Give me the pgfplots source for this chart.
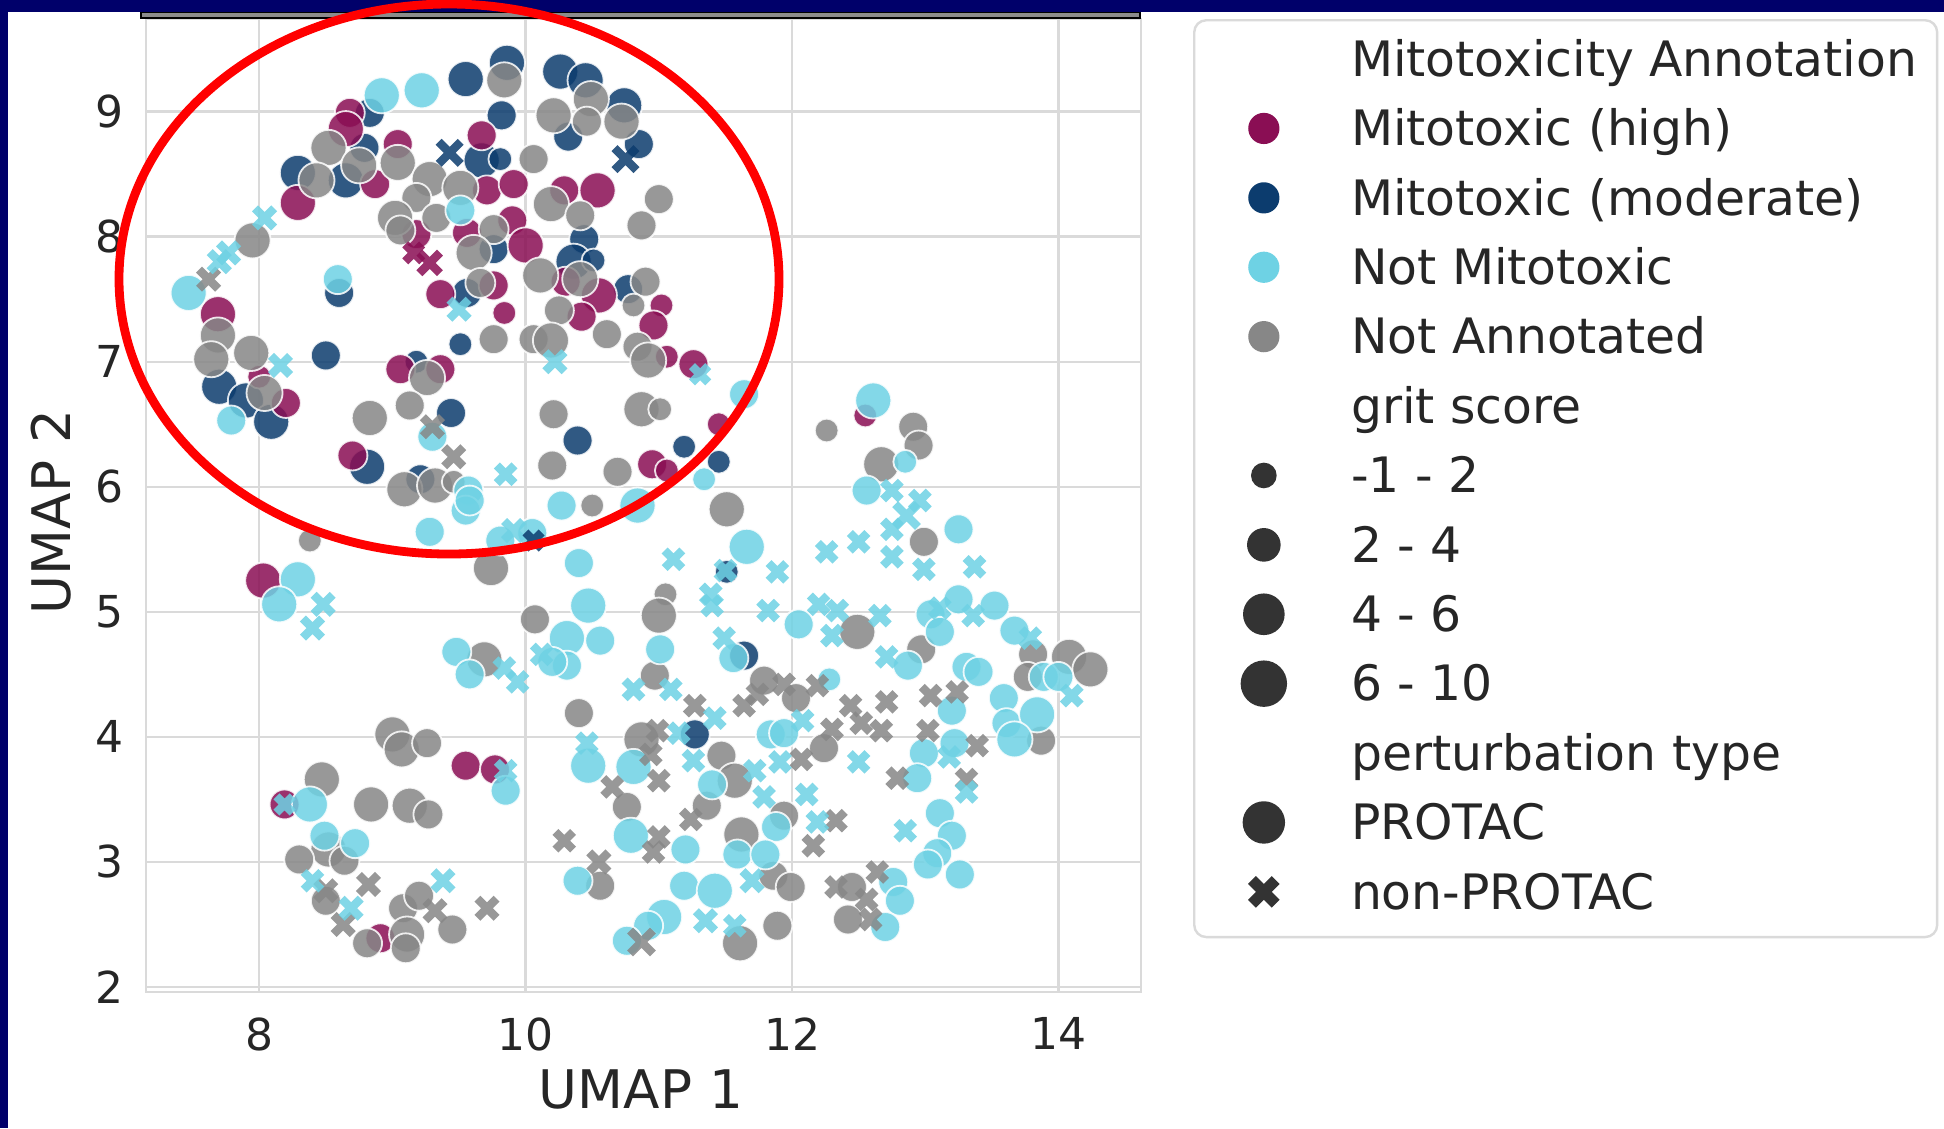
\documentclass[border=0pt]{standalone}
\usepackage{fontspec}
\setmainfont{DejaVu Sans}
\usepackage{pgfplots}
\usepackage{pgfplotstable}
\pgfplotsset{compat=1.18}

\definecolor{navybg}{RGB}{0,0,106}
\definecolor{chigh}{RGB}{138,14,84}
\definecolor{cmod}{RGB}{12,60,110}
\definecolor{ccyan}{RGB}{110,210,228}
\definecolor{cgray}{RGB}{135,135,135}
\definecolor{labelgray}{RGB}{38,38,38}
\definecolor{lgdark}{RGB}{51,51,51}
\definecolor{gridgray}{RGB}{218,218,218}

\pgfplotsset{
  circ/.style={only marks, scatter, mark=*, forget plot,
    scatter/use mapped color={draw=white, line width=0.45pt, fill=#1, fill opacity=0.85, draw opacity=0.85},
    visualization depends on={1.1*\thisrow{s}\as\perpointmarksize},
    scatter/@pre marker code/.append style={/tikz/mark size=\perpointmarksize}},
  xmk/.style={only marks, scatter, mark=x, forget plot,
    scatter/use mapped color={draw=#1, line width=2.1pt, draw opacity=0.85},
    visualization depends on={1.3*\thisrow{s}\as\perpointmarksize},
    scatter/@pre marker code/.append style={/tikz/mark size=\perpointmarksize}},
}

\pgfplotstableread{
x y s
9.84 9.25 4.1
8.52 8.71 4.1
9.04 8.59 4.1
10.06 8.62 3.4
8.43 8.45 4.1
8.75 8.57 4.1
9.28 8.46 4.1
9.18 8.31 3.4
9.51 8.39 4.1
9.33 8.15 3.4
9.02 8.15 4.1
9.06 8.05 3.4
9.76 8.06 3.4
9.61 7.87 4.1
9.66 7.63 3.4
9.76 7.18 3.4
10.06 7.18 3.4
7.95 7.97 4.1
7.69 7.21 4.1
7.94 7.07 4.1
7.64 7.02 4.1
8.04 6.75 4.1
9.26 6.87 4.1
8.83 6.55 4.1
9.13 6.65 3.4
9.09 5.98 4.1
9.32 6.01 4.1
9.46 6.04 2.7
8.38 5.57 2.7
9.74 5.35 4.1
10.07 4.94 3.4
9.69 4.62 4.1
9.00 4.02 4.1
9.07 3.90 4.1
9.26 3.95 3.4
8.47 3.66 4.1
8.84 3.46 4.1
9.13 3.45 4.1
9.27 3.38 3.4
8.52 3.10 4.1
8.64 3.01 3.4
8.30 3.02 3.4
8.50 2.69 3.4
9.08 2.63 3.4
9.20 2.73 3.4
9.45 2.46 3.4
8.81 2.35 3.4
9.11 2.42 4.1
9.10 2.31 3.4
10.49 9.10 4.1
10.72 8.92 4.1
10.21 8.97 4.1
10.46 8.92 3.4
10.19 8.26 4.1
10.41 8.17 3.4
11.00 8.30 3.4
10.87 8.09 3.4
10.41 7.66 4.1
10.11 7.69 4.1
10.25 7.41 3.4
10.90 7.64 3.4
10.81 7.45 2.7
10.61 7.22 3.4
10.19 7.17 4.1
10.84 7.12 3.4
10.92 7.01 4.1
10.21 6.58 3.4
10.87 6.62 4.1
11.01 6.62 2.7
12.26 6.45 2.7
10.20 6.17 3.4
10.69 6.12 3.4
10.50 5.85 2.7
11.51 5.82 4.1
11.05 5.14 2.7
11.00 4.97 4.1
10.97 4.49 3.4
10.40 4.19 3.4
11.79 4.45 3.4
12.03 4.31 3.4
12.24 3.91 3.4
10.87 3.98 4.1
11.47 3.85 3.4
11.57 3.65 4.1
10.76 3.44 3.4
11.36 3.45 3.4
11.62 3.22 4.1
11.94 3.37 3.4
10.56 2.81 3.4
11.86 2.89 3.4
11.99 2.80 3.4
11.89 2.49 3.4
11.61 2.35 4.1
12.91 6.48 3.4
12.95 6.33 3.4
12.67 6.18 4.1
12.99 5.56 3.4
12.49 4.84 4.1
12.97 4.70 3.4
13.81 4.66 3.4
13.77 4.48 3.4
14.08 4.64 4.1
14.24 4.54 4.1
13.87 3.97 3.4
12.45 2.80 3.4
12.42 2.54 3.4
}\grayC

\pgfplotstableread{
x y s
7.62 7.66 2.6
9.30 6.48 2.6
9.46 6.24 2.6
8.82 2.82 2.6
8.50 2.77 2.6
8.63 2.50 2.6
9.32 2.61 2.6
9.71 2.63 2.6
11.27 4.25 2.4
11.64 4.25 2.4
11.74 4.34 2.4
11.94 4.42 2.4
12.19 4.41 2.4
10.99 4.05 2.4
10.94 3.86 2.4
12.30 4.06 2.4
11.00 3.65 2.4
10.65 3.60 2.4
12.07 3.82 2.4
11.24 3.34 2.4
11.00 3.20 2.4
10.29 3.17 2.4
10.96 3.08 2.4
12.33 3.33 2.4
12.16 3.13 2.4
10.55 3.00 2.6
10.87 2.36 3.1
12.33 2.80 2.4
13.04 4.33 2.4
13.24 4.36 2.4
12.44 4.25 2.4
12.52 4.11 2.4
12.67 4.05 2.4
12.71 4.28 2.4
13.02 4.05 2.4
13.39 3.93 2.4
12.79 3.67 2.4
13.31 3.66 2.4
12.64 2.92 2.4
12.59 2.54 2.4
12.56 2.70 2.4
}\grayX

\pgfplotstableread{
x y s
9.22 9.17 4.1
8.92 9.13 4.1
9.51 8.21 3.4
8.59 7.66 3.4
7.47 7.55 4.1
7.79 6.53 3.4
9.30 6.40 3.4
9.57 5.97 3.4
9.55 5.81 3.4
9.58 5.89 3.4
9.28 5.64 3.4
9.81 5.57 3.4
8.29 5.26 4.1
8.15 5.06 4.1
9.48 4.68 3.4
9.58 4.50 3.4
9.85 3.57 3.4
8.38 3.46 4.1
8.49 3.21 3.4
8.72 3.15 3.4
11.64 6.74 3.4
11.34 6.06 2.7
10.27 5.85 3.4
10.84 5.85 4.1
10.05 5.63 3.4
10.40 5.39 3.4
11.66 5.52 4.1
10.47 5.05 4.1
12.05 4.90 3.4
10.31 4.79 4.1
10.56 4.77 3.4
10.31 4.57 3.4
10.20 4.60 3.4
11.01 4.70 3.4
11.56 4.63 3.4
10.47 3.77 4.1
10.81 3.76 4.1
11.84 4.02 3.4
11.94 4.03 3.4
11.40 3.62 3.4
11.88 3.28 3.4
10.79 3.21 4.1
11.20 3.10 3.4
11.59 3.06 3.4
11.80 3.06 3.4
10.39 2.85 3.4
11.19 2.81 3.4
11.42 2.77 4.1
11.04 2.56 4.1
10.92 2.49 3.4
10.76 2.37 3.4
12.28 4.46 2.7
12.61 6.69 4.1
12.85 6.20 2.7
12.56 5.97 3.4
13.25 5.66 3.4
12.87 4.57 3.4
13.04 4.98 3.4
13.11 4.84 3.4
13.25 5.10 3.4
13.52 5.05 3.4
13.67 4.85 3.4
13.89 4.48 3.4
14.00 4.48 3.4
13.31 4.56 3.4
13.40 4.52 3.4
13.20 4.21 3.4
13.59 4.31 3.4
13.61 4.11 3.4
13.84 4.18 4.1
13.67 3.98 4.1
12.99 3.87 3.4
13.22 3.95 3.4
12.94 3.67 3.4
13.11 3.39 3.4
13.20 3.21 3.4
13.09 3.07 3.4
13.02 2.98 3.4
13.26 2.90 3.4
12.76 2.84 3.4
12.81 2.69 3.4
12.70 2.48 3.4
}\cyanC

\pgfplotstableread{
x y s
8.04 8.15 2.6
7.77 7.87 2.6
7.70 7.80 2.6
9.50 7.42 2.6
8.16 6.97 2.6
9.85 6.10 2.4
9.91 5.65 2.6
8.48 5.06 2.6
8.40 4.87 2.6
9.84 4.55 2.4
9.94 4.44 2.4
9.85 3.73 2.4
8.40 2.85 2.4
8.69 2.63 2.6
9.38 2.85 2.6
8.19 3.46 2.2
10.22 7.00 2.6
11.31 6.90 2.2
11.11 5.42 2.4
11.89 5.32 2.4
12.26 5.48 2.4
11.39 5.14 2.4
11.40 5.05 2.4
11.82 5.01 2.4
12.20 5.06 2.4
12.34 5.01 2.4
12.30 4.81 2.4
10.12 4.66 2.4
11.49 4.79 2.4
10.81 4.38 2.4
11.09 4.38 2.4
11.42 4.15 2.4
11.15 4.03 2.4
10.46 3.95 2.4
11.26 3.81 2.4
11.91 3.80 2.4
11.72 3.73 2.4
11.79 3.52 2.4
12.11 3.54 2.4
12.19 3.32 2.4
11.70 2.85 2.6
11.35 2.53 2.6
11.57 2.49 2.4
12.08 4.13 2.4
11.50 5.33 2.4
12.75 5.97 2.4
12.96 5.89 2.4
12.86 5.77 3.1
12.75 5.66 2.4
12.50 5.56 2.4
12.75 5.44 2.4
12.99 5.34 2.4
13.37 5.36 2.4
12.66 4.97 2.4
12.71 4.64 2.4
13.11 5.03 2.4
13.36 4.97 2.4
13.79 4.79 2.4
14.10 4.33 2.4
12.50 3.80 2.4
13.18 3.84 2.4
13.31 3.56 2.4
12.85 3.25 2.4
}\cyanX

\pgfplotstableread{
x y s
9.86 9.39 4.1
9.55 9.26 4.1
8.83 8.99 3.4
8.79 8.71 3.4
9.67 8.61 4.1
9.82 8.97 3.4
9.81 8.62 2.7
8.29 8.51 4.1
8.65 8.45 4.1
9.76 7.90 3.4
9.56 7.55 3.4
9.51 7.14 2.7
8.60 7.55 3.4
8.50 7.05 3.4
9.18 7.00 2.7
7.70 6.80 4.1
7.90 6.69 4.1
8.09 6.52 4.1
9.44 6.59 3.4
8.81 6.16 4.1
9.21 6.06 3.4
10.26 9.32 4.1
10.45 9.25 4.1
10.74 9.05 4.1
10.32 8.80 3.4
10.85 8.74 3.4
10.44 7.98 3.4
10.36 7.80 4.1
10.51 7.81 2.7
10.77 7.58 3.4
10.39 6.37 3.4
11.19 6.32 2.7
11.45 6.20 2.7
11.51 5.32 2.7
11.64 4.65 3.4
11.27 4.02 3.4
}\modC

\pgfplotstableread{
x y s
9.43 8.67 3.0
10.75 8.62 3.0
10.06 5.57 2.2
}\modX

\pgfplotstableread{
x y s
8.68 8.99 3.4
8.65 8.86 4.1
9.04 8.74 3.4
9.67 8.81 3.4
8.29 8.27 4.1
8.87 8.42 3.4
9.71 8.37 3.4
9.91 8.42 3.4
9.18 8.02 3.4
9.56 8.03 3.4
9.90 8.13 3.4
10.00 7.93 4.1
9.36 7.54 3.4
9.76 7.61 3.4
9.84 7.39 2.7
7.69 7.38 4.1
9.06 6.94 3.4
9.36 6.94 3.4
8.20 6.67 3.4
8.00 6.88 2.7
8.70 6.25 3.4
8.03 5.25 4.1
9.55 3.77 3.4
9.77 3.74 3.4
8.19 3.46 3.4
8.91 2.39 3.4
10.29 8.37 3.4
10.54 8.37 4.1
10.30 7.64 3.4
10.55 7.53 4.1
10.42 7.36 3.4
11.02 7.45 2.7
10.96 7.29 3.4
11.06 7.04 2.7
11.26 6.98 3.4
11.45 6.50 2.7
10.95 6.18 3.4
11.06 6.13 2.7
12.55 6.57 2.7
}\highC

\pgfplotstableread{
x y s
9.28 7.79 2.8
9.16 7.87 2.3
}\highX

\begin{document}
\begin{tikzpicture}
\useasboundingbox (0,0) rectangle (486pt,-282pt);
\fill[navybg] (0,0) rectangle (486pt,-282pt);
\fill[white] (2pt,-3pt) rectangle (486pt,-282pt);
\begin{axis}[
  at={(36.5pt,-248pt)}, anchor=south west,
  scale only axis, width=248.75pt, height=243.25pt,
  xmin=7.15, xmax=14.62, ymin=1.96, ymax=9.74,
  xtick={8,10,12,14}, ytick={2,3,4,5,6,7,8,9},
  major tick length=0pt,
  grid=major,
  major grid style={draw=gridgray, line width=0.6pt},
  axis line style={draw=gridgray, line width=0.7pt},
  /pgf/number format/assume math mode=true,
  ticklabel style={font=\fontsize{11}{13}\selectfont, text=labelgray, inner sep=0pt},
  xticklabel style={anchor=north, yshift=-6.25pt},
  yticklabel style={anchor=east, xshift=-5.4pt},
  xlabel={UMAP 1}, ylabel={UMAP 2},
  label style={font=\fontsize{13.3}{15}\selectfont, text=labelgray, inner sep=0pt},
  xlabel style={at={(axis description cs:0.4975,0)}, anchor=north, yshift=-19.25pt},
  ylabel style={at={(axis description cs:-0.0744,0.4933)}, anchor=south},
  legend cell align=left,
  legend image code/.code={\path (-11pt,4.3pt); \draw[#1] plot coordinates {(0pt,4.3pt)};},
  legend style={
    at={(axis description cs:1.0523,1)}, anchor=north west,
    draw=gridgray, line width=0.6pt, rounded corners=3pt, fill=white,
    inner xsep=5pt, inner ysep=4pt,
    font=\fontsize{12.2}{14}\selectfont, text=labelgray,
    row sep=4.35pt,
    nodes={inner sep=0pt, text height=10pt, text depth=3pt, anchor=base west},
    /tikz/every odd column/.append style={column sep=16.3pt},
  },
]
\addplot[circ=cmod] table[x=x,y=y] {\modC};
\addplot[circ=chigh] table[x=x,y=y] {\highC};
\addplot[circ=cgray] table[x=x,y=y] {\grayC};
\addplot[circ=ccyan] table[x=x,y=y] {\cyanC};
\addplot[xmk=cgray] table[x=x,y=y] {\grayX};
\addplot[xmk=ccyan] table[x=x,y=y] {\cyanX};
\addplot[xmk=cmod] table[x=x,y=y] {\modX};
\addplot[xmk=chigh] table[x=x,y=y] {\highX};

\addlegendimage{empty legend}\addlegendentry{Mitotoxicity Annotation}
\addlegendimage{only marks, mark=*, mark size=3.6pt, draw=chigh, fill=chigh}\addlegendentry{Mitotoxic (high)}
\addlegendimage{only marks, mark=*, mark size=3.6pt, draw=cmod, fill=cmod}\addlegendentry{Mitotoxic (moderate)}
\addlegendimage{only marks, mark=*, mark size=3.6pt, draw=ccyan, fill=ccyan}\addlegendentry{Not Mitotoxic}
\addlegendimage{only marks, mark=*, mark size=3.6pt, draw=cgray, fill=cgray}\addlegendentry{Not Annotated}
\addlegendimage{empty legend}\addlegendentry{grit score}
\addlegendimage{only marks, mark=*, mark size=2.9pt, draw=lgdark, fill=lgdark}\addlegendentry{-1 - 2}
\addlegendimage{only marks, mark=*, mark size=3.9pt, draw=lgdark, fill=lgdark}\addlegendentry{2 - 4}
\addlegendimage{only marks, mark=*, mark size=4.9pt, draw=lgdark, fill=lgdark}\addlegendentry{4 - 6}
\addlegendimage{only marks, mark=*, mark size=5.5pt, draw=lgdark, fill=lgdark}\addlegendentry{6 - 10}
\addlegendimage{empty legend}\addlegendentry{perturbation type}
\addlegendimage{only marks, mark=*, mark size=5.0pt, draw=lgdark, fill=lgdark}\addlegendentry{PROTAC}
\addlegendimage{only marks, mark=x, mark size=4.2pt, line width=2.8pt, draw=lgdark}\addlegendentry{non-PROTAC}
\end{axis}
\fill[black] (35pt,-2.9pt) rectangle (285.25pt,-4.85pt);
\fill[black!45] (35.4pt,-3.35pt) rectangle (284.85pt,-4.35pt);
\draw[red, line width=2.2pt] (112.25pt,-69.75pt) ellipse [x radius=82.5pt, y radius=68.75pt];
\end{tikzpicture}
\end{document}
